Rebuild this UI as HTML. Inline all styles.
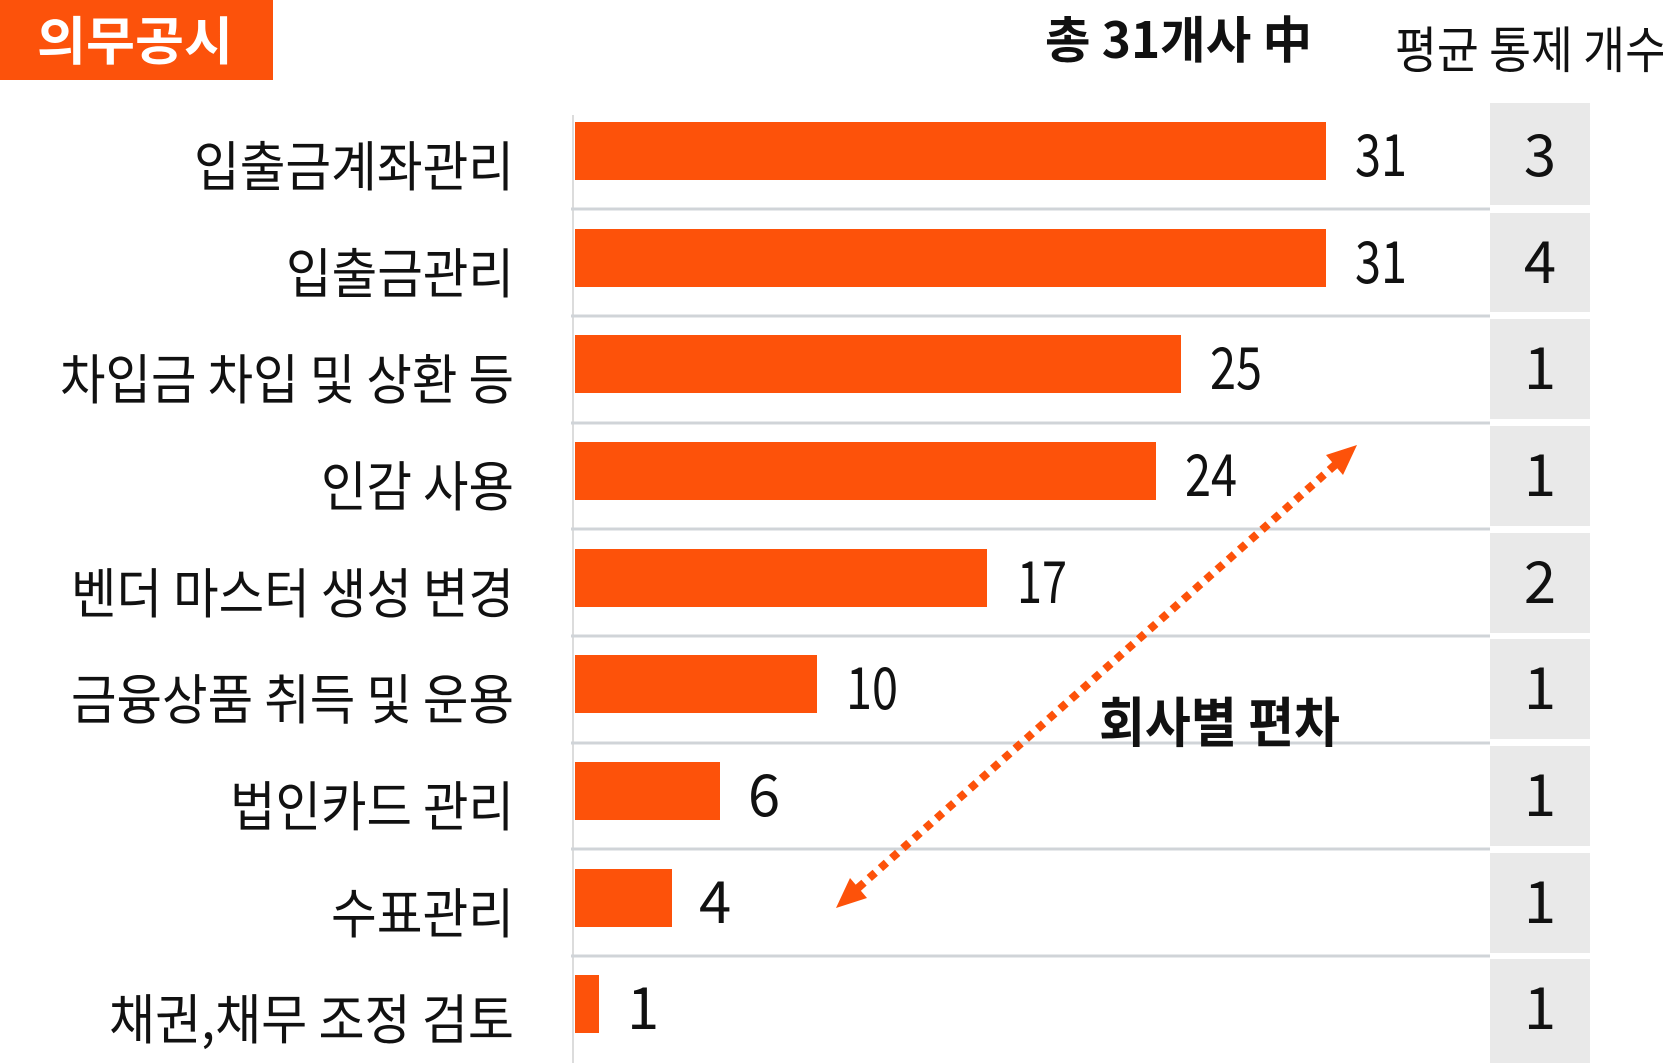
<!DOCTYPE html>
<html><head><meta charset="utf-8"><style>
html,body{margin:0;padding:0;background:#fff;}
svg{display:block;}
text{font-family:"Liberation Sans","Noto Sans CJK KR",sans-serif;fill:#111;}
.k{font-family:"Noto Sans CJK KR","Liberation Sans",sans-serif;}
</style></head><body>
<svg width="1663" height="1063" viewBox="0 0 1663 1063" xmlns="http://www.w3.org/2000/svg">
<rect x="0" y="0" width="273" height="80" fill="#fc520b"/>
<text class="k" x="37" y="60" font-size="52" font-weight="bold" style="fill:#fff" textLength="196" lengthAdjust="spacingAndGlyphs">의무공시</text>
<text class="k" x="1045" y="58" font-size="50" font-weight="bold" textLength="267" lengthAdjust="spacingAndGlyphs">총 31개사 中</text>
<text class="k" x="1395" y="68" font-size="50" textLength="272" lengthAdjust="spacingAndGlyphs">평균 통제 개수</text>
<line x1="573" y1="115" x2="573" y2="1063" stroke="#dcdcdc" stroke-width="2"/>
<g stroke="#d0d4d8" stroke-width="3">
<line x1="571" y1="209" x2="1490" y2="209"/>
<line x1="571" y1="316" x2="1490" y2="316"/>
<line x1="571" y1="423" x2="1490" y2="423"/>
<line x1="571" y1="529" x2="1490" y2="529"/>
<line x1="571" y1="636" x2="1490" y2="636"/>
<line x1="571" y1="743" x2="1490" y2="743"/>
<line x1="571" y1="849" x2="1490" y2="849"/>
<line x1="571" y1="956" x2="1490" y2="956"/>
</g>
<g fill="#e9e9e9">
<rect x="1490" y="103" width="100" height="102"/>
<rect x="1490" y="213" width="100" height="99"/>
<rect x="1490" y="319" width="100" height="100"/>
<rect x="1490" y="426" width="100" height="100"/>
<rect x="1490" y="533" width="100" height="100"/>
<rect x="1490" y="639" width="100" height="100"/>
<rect x="1490" y="746" width="100" height="100"/>
<rect x="1490" y="853" width="100" height="100"/>
<rect x="1490" y="959" width="100" height="104"/>
</g>
<g fill="#fd520a">
<rect x="575" y="122" width="751" height="58"/>
<rect x="575" y="229" width="751" height="58"/>
<rect x="575" y="335" width="606" height="58"/>
<rect x="575" y="442" width="581" height="58"/>
<rect x="575" y="549" width="412" height="58"/>
<rect x="575" y="655" width="242" height="58"/>
<rect x="575" y="762" width="145" height="58"/>
<rect x="575" y="869" width="97" height="58"/>
<rect x="575" y="975" width="24" height="58"/>
</g>
<g class="k" font-size="54" text-anchor="end">
<text class="k" x="514" y="186" textLength="320" lengthAdjust="spacingAndGlyphs">입출금계좌관리</text>
<text class="k" x="514" y="293" textLength="228" lengthAdjust="spacingAndGlyphs">입출금관리</text>
<text class="k" x="514" y="399" textLength="454" lengthAdjust="spacingAndGlyphs">차입금 차입 및 상환 등</text>
<text class="k" x="514" y="506" textLength="193" lengthAdjust="spacingAndGlyphs">인감 사용</text>
<text class="k" x="514" y="613" textLength="443" lengthAdjust="spacingAndGlyphs">벤더 마스터 생성 변경</text>
<text class="k" x="514" y="719" textLength="443" lengthAdjust="spacingAndGlyphs">금융상품 취득 및 운용</text>
<text class="k" x="514" y="826" textLength="284" lengthAdjust="spacingAndGlyphs">법인카드 관리</text>
<text class="k" x="514" y="933" textLength="183" lengthAdjust="spacingAndGlyphs">수표관리</text>
<text class="k" x="514" y="1039" textLength="405" lengthAdjust="spacingAndGlyphs">채권,채무 조정 검토</text>
</g>
<g class="k" font-size="58">
<text class="k" x="1355" y="176" textLength="52" lengthAdjust="spacingAndGlyphs">31</text>
<text class="k" x="1355" y="283" textLength="52" lengthAdjust="spacingAndGlyphs">31</text>
<text class="k" x="1210" y="389" textLength="52" lengthAdjust="spacingAndGlyphs">25</text>
<text class="k" x="1185" y="496" textLength="52" lengthAdjust="spacingAndGlyphs">24</text>
<text class="k" x="1017" y="603" textLength="50" lengthAdjust="spacingAndGlyphs">17</text>
<text class="k" x="846" y="709" textLength="52" lengthAdjust="spacingAndGlyphs">10</text>
<text class="k" x="748" y="816">6</text>
<text class="k" x="699" y="923">4</text>
<text class="k" x="627" y="1029">1</text>
</g>
<g class="k" font-size="58" text-anchor="middle">
<text class="k" x="1540" y="176">3</text>
<text class="k" x="1540" y="283">4</text>
<text class="k" x="1540" y="389">1</text>
<text class="k" x="1540" y="496">1</text>
<text class="k" x="1540" y="603">2</text>
<text class="k" x="1540" y="709">1</text>
<text class="k" x="1540" y="816">1</text>
<text class="k" x="1540" y="923">1</text>
<text class="k" x="1540" y="1029">1</text>
</g>
<line x1="858" y1="888" x2="1335" y2="465" stroke="#fd520a" stroke-width="8" stroke-dasharray="8 7"/>
<polygon points="836,908 867,898 850,878" fill="#fd520a"/>
<polygon points="1357,445 1343,475 1326,455" fill="#fd520a"/>
<text class="k" x="1099" y="742" font-size="54" font-weight="bold" textLength="241" lengthAdjust="spacingAndGlyphs">회사별 편차</text>
</svg>
</body></html>
